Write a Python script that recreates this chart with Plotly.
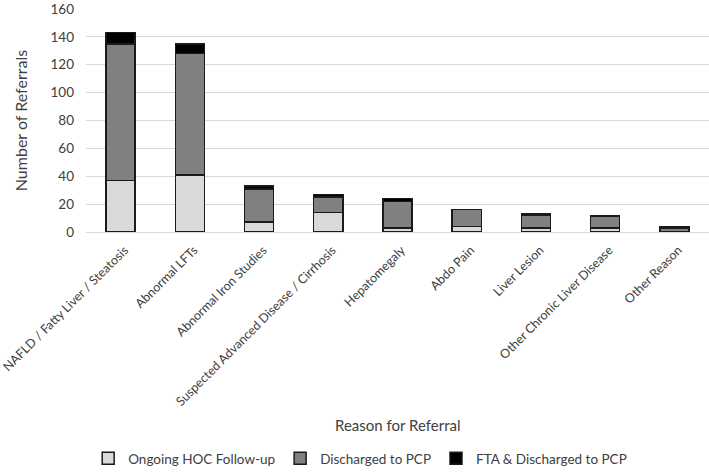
import plotly.graph_objects as go

categories = [
    "NAFLD / Fatty Liver / Steatosis",
    "Abnormal LFTs",
    "Abnormal Iron Studies",
    "Suspected Advanced Disease / Cirrhosis",
    "Hepatomegaly",
    "Abdo Pain",
    "Liver Lesion",
    "Other Chronic Liver Disease",
    "Other Reason",
]
ongoing_hoc = [37, 41, 7, 14, 3, 4, 3, 3, 0]
discharged_pcp = [98, 87, 24, 11, 19, 12, 9, 8, 3]
fta_discharged = [8, 7, 2, 2, 2, 0, 1, 1, 1]
y_ticks = [0, 20, 40, 60, 80, 100, 120, 140, 160]

font_family = "Lato, Open Sans, sans-serif"
text_color = "#404040"

fig = go.Figure()
series = [
    ("Ongoing HOC Follow-up", ongoing_hoc, "#d9d9d9"),
    ("Discharged to PCP", discharged_pcp, "#808080"),
    ("FTA & Discharged to PCP", fta_discharged, "#000000"),
]
for name, vals, col in series:
    fig.add_trace(go.Bar(
        x=categories, y=vals, name=name,
        marker=dict(color=col, line=dict(color="#1a1a1a", width=1.5)),
        width=0.42,
    ))

fig.update_layout(
    width=709, height=474,
    barmode="stack",
    plot_bgcolor="white", paper_bgcolor="white",
    margin=dict(l=86, r=0, t=9, b=242),
    font=dict(family=font_family, color=text_color, size=12),
    showlegend=True,
    legend=dict(
        orientation="h", xref="container", yref="container",
        x=0.508, xanchor="center", y=-0.008, yanchor="bottom",
        font=dict(size=13.5, color=text_color),
        traceorder="normal",
        itemwidth=30,
    ),
    xaxis=dict(
        tickangle=-45, tickfont=dict(size=12.5, color=text_color),
        showline=True, linecolor="#d9d9d9", linewidth=1,
        ticks="", showgrid=False, automargin=False,
        ticklabelstandoff=5, ticklabelshift=4,
    ),
    yaxis=dict(
        range=[0, 160], tickvals=y_ticks,
        tickfont=dict(size=13.5, color=text_color),
        showgrid=True, gridcolor="#d9d9d9", gridwidth=1,
        zeroline=False, ticks="", ticklen=0,
        showline=False, automargin=False,
        ticklabelstandoff=11,
    ),
    annotations=[
        dict(text="Number of Referrals", xref="paper", yref="paper",
             x=-0.1, xanchor="center", y=0.5, yanchor="middle",
             textangle=-90, showarrow=False, xshift=-3,
             font=dict(size=16, color=text_color)),
        dict(text="Reason for Referral", xref="paper", yref="paper",
             x=0.5, xanchor="center", y=-0.865, yanchor="middle",
             showarrow=False, font=dict(size=15, color=text_color)),
    ],
)

fig.write_html(
    "out.html",
    config={"displayModeBar": False},
    post_script="document.body.style.margin='0';document.body.style.overflow='hidden';",
)
